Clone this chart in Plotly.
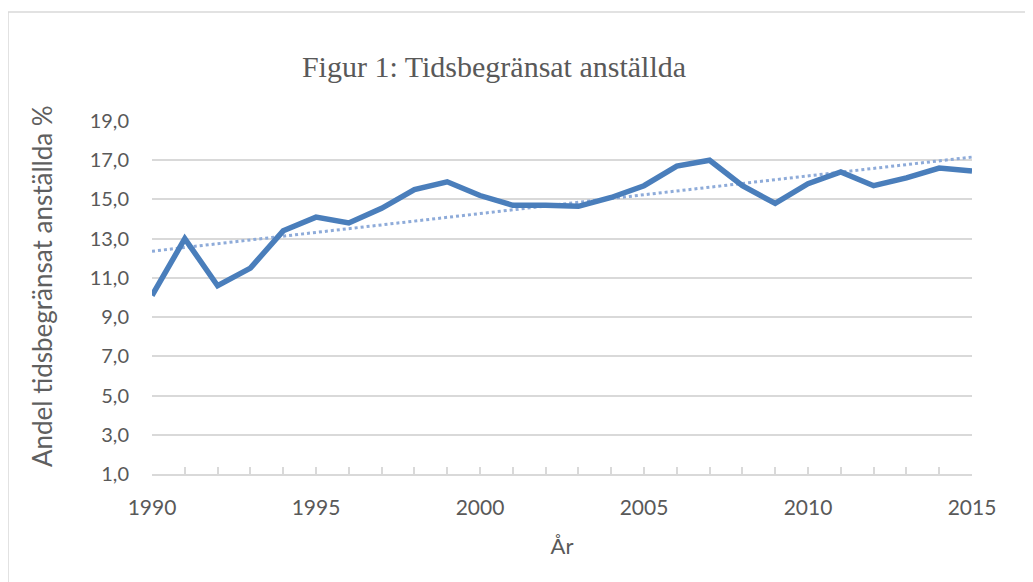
import numpy as np
import plotly.graph_objects as go

years = list(range(1990, 2016))
andel = [10.1, 13.0, 10.6, 11.5, 13.4, 14.1, 13.8, 14.55, 15.5, 15.9,
         15.2, 14.7, 14.7, 14.65, 15.1, 15.7, 16.7, 17.0, 15.7, 14.8,
         15.8, 16.4, 15.7, 16.1, 16.6, 16.45]
y_ticks = [1, 3, 5, 7, 9, 11, 13, 15, 17, 19]
x_ticks = [1990, 1995, 2000, 2005, 2010, 2015]

# linear trendline (as in the spreadsheet chart)
coef = np.polyfit(years, andel, 1)
trend = list(np.polyval(coef, years))

W, H = 1033, 582
L, T = 144, 113
pw, ph = 820, 353
R, B = W - L - pw, H - T - ph

fig = go.Figure()
fig.add_trace(go.Scatter(x=years, y=trend, mode="lines",
                         line=dict(color="#8eabd9", width=3, dash="dot"),
                         showlegend=False, hoverinfo="skip"))
fig.add_trace(go.Scatter(x=years, y=andel, mode="lines",
                         line=dict(color="#4a7ebb", width=5.5),
                         showlegend=False))

gray = "#d9d9d9"
txt = "#595959"
fig.update_layout(
    width=W, height=H,
    margin=dict(l=L, r=R, t=T, b=B, autoexpand=False),
    paper_bgcolor="white", plot_bgcolor="white",
    separators=", ",
    title=dict(text="Figur 1: Tidsbegränsat anställda",
               font=dict(family="Liberation Serif", size=30, color=txt),
               x=486 / W, xanchor="center", y=1 - 58 / H, yanchor="middle"),
    xaxis=dict(range=[1990, 2015], tickmode="array", tickvals=x_ticks,
               showgrid=False, zeroline=False,
               showline=True, linecolor=gray, linewidth=1.5,
               ticks="inside", ticklen=7, tickcolor=gray, tickwidth=1.5,
               minor=dict(dtick=1, ticks="inside", ticklen=7, tickcolor=gray,
                          tickwidth=1.5, showgrid=False),
               ticklabelstandoff=14,
               tickfont=dict(family="Lato", size=21, color=txt),
               title=dict(text="År", font=dict(family="Lato", size=22, color=txt),
                          standoff=21)),
    yaxis=dict(range=[1, 19], tickmode="array", tickvals=y_ticks,
               tickformat=".1f",
               showgrid=True, gridcolor=gray, gridwidth=1.5,
               zeroline=False, showline=False, ticks="",
               ticklabelstandoff=22,
               tickfont=dict(family="Lato", size=20, color=txt)),
)

# y-axis title placed as rotated text
fig.add_annotation(text="Andel tidsbegränsat anställda %", textangle=-90,
                   xref="paper", yref="paper",
                   x=(34 - L) / pw, y=(T + ph - 278) / ph,
                   xanchor="center", yanchor="middle", showarrow=False,
                   font=dict(family="Lato", size=26, color="#5f5f5f"))

# outer chart frame (light gray border, cut off at right/bottom)
fig.add_shape(type="rect", xref="paper", yref="paper",
              x0=(0 - L) / pw, x1=(W + 20 - L) / pw,
              y0=-(H + 20 - (T + ph)) / ph, y1=(T + ph - 4) / ph,
              line=dict(color=gray, width=1.5), fillcolor="rgba(0,0,0,0)",
              layer="below")

fig.write_html("out.html")
